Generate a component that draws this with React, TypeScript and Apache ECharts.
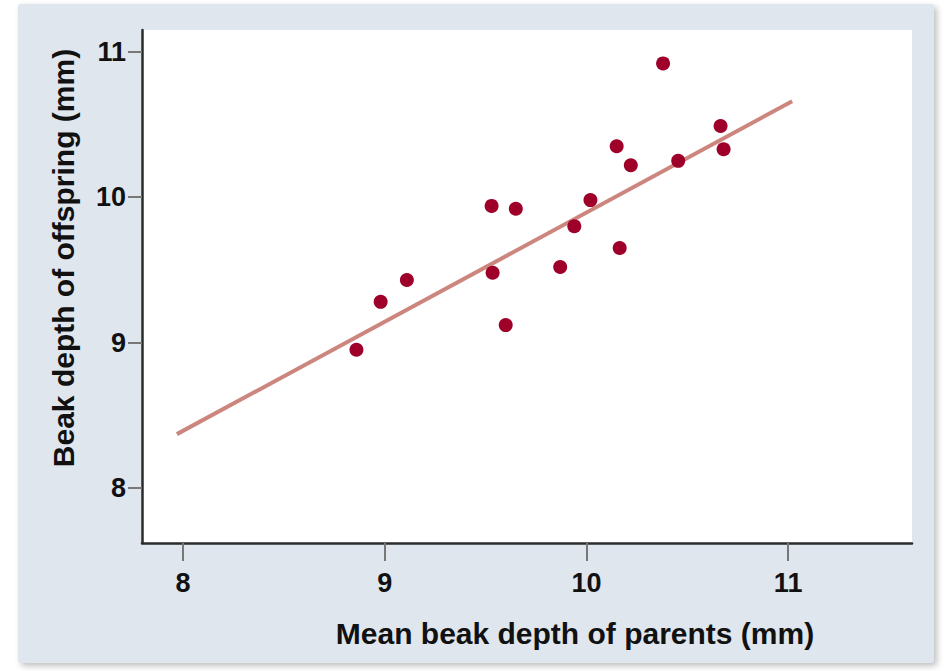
import React, { useEffect, useRef } from "react";
import * as echarts from "echarts";

const parentDepth = [8.86, 8.98, 9.11, 9.53, 9.65, 9.535, 9.6, 9.87, 9.94, 10.02, 10.15, 10.165, 10.22, 10.38, 10.455, 10.665, 10.68];
const offspringDepth = [8.95, 9.28, 9.43, 9.94, 9.92, 9.48, 9.12, 9.52, 9.8, 9.98, 10.35, 9.65, 10.22, 10.92, 10.25, 10.49, 10.33];
const fitX = [7.97, 11.02];
const fitY = [8.37, 10.66];
const xTicks = [8, 9, 10, 11];
const yTicks = [8, 9, 10, 11];
const xTitle = "Mean beak depth of parents (mm)";
const yTitle = "Beak depth of offspring (mm)";

export default function App() {
  const ref = useRef<HTMLDivElement>(null);
  useEffect(() => {
    if (!ref.current) return;
    const chart = echarts.init(ref.current, undefined, { renderer: "svg" });
    const font = "Liberation Sans, Arial, sans-serif";
    chart.setOption({
      animation: false,
      backgroundColor: "transparent",
      grid: {
        show: true,
        left: 124,
        top: 26,
        right: 22,
        bottom: 120,
        backgroundColor: "#ffffff",
        borderWidth: 0,
      },
      xAxis: {
        type: "value",
        min: 7.797,
        max: 11.614,
        axisLine: { show: true, onZero: false, lineStyle: { color: "#2b2b2b", width: 2.5 } },
        axisTick: { show: true, customValues: xTicks, length: 18, lineStyle: { color: "#777", width: 2 } },
        axisLabel: { customValues: xTicks, margin: 26, fontSize: 27, fontWeight: "bold", color: "#111", fontFamily: font },
        splitLine: { show: false },
      },
      yAxis: {
        type: "value",
        min: 7.621,
        max: 11.15,
        axisLine: { show: true, onZero: false, lineStyle: { color: "#2b2b2b", width: 2.5 } },
        axisTick: { show: true, customValues: yTicks, length: 14, lineStyle: { color: "#777", width: 2 } },
        axisLabel: { customValues: yTicks, margin: 16, fontSize: 27, fontWeight: "bold", color: "#111", fontFamily: font },
        splitLine: { show: false },
      },
      graphic: [
        {
          type: "text",
          x: 557,
          y: 629,
          style: {
            text: xTitle,
            fontSize: 30,
            fontWeight: "bold",
            fontFamily: font,
            fill: "#111",
            align: "center",
            verticalAlign: "middle",
          },
        },
        {
          type: "text",
          x: 45,
          y: 254,
          rotation: Math.PI / 2,
          style: {
            text: yTitle,
            fontSize: 30,
            fontWeight: "bold",
            fontFamily: font,
            fill: "#111",
            align: "center",
            verticalAlign: "middle",
          },
        },
      ],
      series: [
        {
          type: "line",
          data: fitX.map((x, i) => [x, fitY[i]]),
          showSymbol: false,
          lineStyle: { color: "#cc867e", width: 4 },
          z: 2,
        },
        {
          type: "scatter",
          data: parentDepth.map((x, i) => [x, offspringDepth[i]]),
          symbolSize: 14,
          itemStyle: { color: "#9e0029", opacity: 1 },
          z: 3,
        },
      ],
    });
    return () => chart.dispose();
  }, []);

  return (
    <div style={{ position: "fixed", left: 0, top: 0, width: 949, height: 671, background: "#ffffff" }}>
      <div
        style={{
          position: "absolute",
          left: 18,
          top: 4,
          width: 916,
          height: 659,
          background: "#dfe6ee",
          boxShadow: "3px 3px 6px rgba(0,0,0,0.25)",
          borderRadius: 3,
        }}
      >
        <div ref={ref} style={{ width: 916, height: 659 }} />
      </div>
    </div>
  );
}
